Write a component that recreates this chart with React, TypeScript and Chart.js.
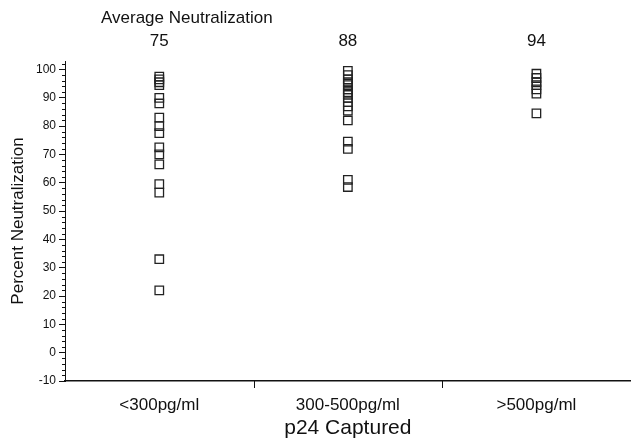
import { useEffect, useRef } from "react";
import { Chart, registerables } from "chart.js";

Chart.register(...registerables);

const categories = ["<300pg/ml", "300-500pg/ml", ">500pg/ml"];
const averages = [75, 88, 94];
const lowValues = [97.5, 96.5, 95.5, 94.5, 90, 88, 83, 80, 77.5, 72.5, 70, 66.5, 59.5, 56.5, 33, 22];
const midValues = [99.5, 98, 96.5, 95.5, 94.5, 93, 92, 91, 90, 88.5, 87, 85.5, 82, 74.5, 72, 61, 58.5];
const highValues = [98.5, 97, 95.5, 94.5, 93, 91.5, 84.5];
const yTicks = [-10, 0, 10, 20, 30, 40, 50, 60, 70, 80, 90, 100];
const yMinorTicks = [-8, -6, -4, -2, 2, 4, 6, 8, 12, 14, 16, 18, 22, 24, 26, 28, 32, 34, 36, 38, 42, 44, 46, 48, 52, 54, 56, 58, 62, 64, 66, 68, 72, 74, 76, 78, 82, 84, 86, 88, 92, 94, 96, 98, 102];
const xBoundaries = [1, 2];

const FONT = "'Liberation Sans', Arial, Helvetica, sans-serif";

const extras = {
  id: "extras",
  afterDraw(chart: any) {
    const ctx = chart.ctx;
    const x = chart.scales.x;
    const y = chart.scales.y;
    ctx.save();
    ctx.strokeStyle = "#111";
    ctx.lineWidth = 1;
    ctx.beginPath();
    yMinorTicks.forEach((v) => {
      const py = Math.round(y.getPixelForValue(v)) + 0.5;
      ctx.moveTo(x.left - 3, py);
      ctx.lineTo(x.left, py);
    });
    xBoundaries.forEach((v) => {
      const px = Math.round(x.getPixelForValue(v)) + 0.5;
      ctx.moveTo(px, y.bottom);
      ctx.lineTo(px, y.bottom + 7);
    });
    ctx.stroke();
    ctx.fillStyle = "#111";
    ctx.textBaseline = "middle";
    ctx.textAlign = "left";
    ctx.font = `17px ${FONT}`;
    ctx.fillText("Average Neutralization", 101, 18);
    ctx.textAlign = "center";
    averages.forEach((a, i) => {
      ctx.fillText(String(a), x.getPixelForValue(i + 0.5), 41);
    });
    ctx.restore();
  },
};

export default function App() {
  const ref = useRef<HTMLCanvasElement>(null);
  useEffect(() => {
    if (!ref.current) return;
    const mk = (vals: number[], i: number) => ({
      label: categories[i],
      data: vals.map((v) => ({ x: i + 0.5, y: v })),
      pointStyle: "rect",
      pointRadius: 6,
      pointHoverRadius: 6,
      borderColor: "#222",
      borderWidth: 1.3,
      backgroundColor: "rgba(255,255,255,0)",
      showLine: false,
    });
    const chart = new Chart(ref.current, {
      type: "scatter",
      data: {
        datasets: [mk(lowValues, 0), mk(midValues, 1), mk(highValues, 2)],
      },
      options: {
        animation: false,
        responsive: true,
        maintainAspectRatio: false,
        layout: { padding: { top: 61, left: 0, right: 1, bottom: 0 } },
        plugins: { legend: { display: false }, tooltip: { enabled: false } },
        scales: {
          x: {
            type: "linear",
            min: 0,
            max: 3,
            afterBuildTicks: (s: any) => {
              s.ticks = categories.map((_, i) => ({ value: i + 0.5 }));
            },
            afterFit: (s: any) => {
              s.height = 64;
            },
            ticks: {
              callback: (_v: any, idx: number) => categories[idx],
              color: "#111",
              font: { family: FONT, size: 17 },
              padding: 14,
              maxRotation: 0,
              autoSkip: false,
            },
            grid: { display: false, drawTicks: false, tickLength: 0 },
            border: { display: true, color: "#111", width: 1.5 },
            title: {
              display: true,
              text: "p24 Captured",
              color: "#111",
              font: { family: FONT, size: 21 },
              padding: { top: 0, bottom: 4 },
            },
          },
          y: {
            type: "linear",
            min: -10,
            max: 103,
            afterBuildTicks: (s: any) => {
              s.ticks = yTicks.map((v) => ({ value: v }));
            },
            afterFit: (s: any) => {
              s.width = 65;
            },
            ticks: {
              color: "#111",
              font: { family: FONT, size: 12 },
              padding: 3,
            },
            grid: { display: true, drawOnChartArea: false, drawTicks: true, tickLength: 6, color: "#111" },
            border: { display: true, color: "#111", width: 1 },
            title: {
              display: true,
              text: "Percent Neutralization",
              color: "#111",
              font: { family: FONT, size: 17 },
              padding: { top: 8, bottom: 0 },
            },
          },
        },
      },
      plugins: [extras],
    } as any);
    return () => chart.destroy();
  }, []);
  return (
    <div style={{ position: "absolute", left: 0, top: 0, width: 638, height: 445 }}>
      <canvas ref={ref} />
    </div>
  );
}
